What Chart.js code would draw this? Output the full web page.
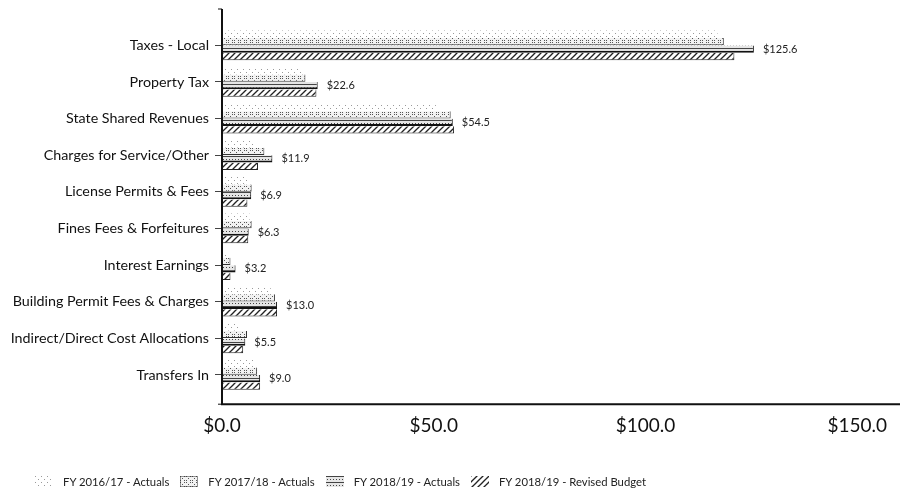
<!DOCTYPE html>
<html>
<head>
<meta charset="utf-8">
<script src="https://cdn.jsdelivr.net/npm/chart.js@4"></script>
<style>
  html, body { margin: 0; padding: 0; background: #fff; }
  #wrap { position: relative; width: 900px; height: 498px; }
  #legend { position: absolute; left: 35px; top: 475px; display: flex; align-items: center;
            font-family: Lato, "Open Sans", sans-serif; font-size: 11.3px; color: #222; }
  .item { display: flex; align-items: center; margin-right: 11px; }
  .item canvas { margin-right: 10px; }
</style>
</head>
<body>
<div id="wrap">
  <canvas id="c" width="900" height="498"></canvas>
  <div id="legend"></div>
</div>
<script>
const categories = [
  "Taxes - Local", "Property Tax", "State Shared Revenues", "Charges for Service/Other",
  "License Permits & Fees", "Fines Fees & Forfeitures", "Interest Earnings",
  "Building Permit Fees & Charges", "Indirect/Direct Cost Allocations", "Transfers In"
];
const seriesNames = [
  "FY 2016/17 - Actuals", "FY 2017/18 - Actuals", "FY 2018/19 - Actuals", "FY 2018/19 - Revised Budget"
];
const fy1617 = [117.0, 19.0, 50.5, 7.5, 6.0, 6.5, 1.2, 11.5, 4.0, 7.5];
const fy1718 = [118.5, 19.7, 54.0, 10.0, 7.0, 7.0, 2.0, 12.5, 5.9, 8.3];
const fy1819 = [125.6, 22.6, 54.5, 11.9, 6.9, 6.3, 3.2, 13.0, 5.5, 9.0];
const fy1819Budget = [121.0, 22.3, 54.8, 8.5, 6.0, 6.2, 2.0, 13.0, 5.0, 9.0];
const xTicks = [0, 50, 100, 150];
const labelledSeries = 2;

function makePattern(kind) {
  const t = document.createElement('canvas');
  const s = 6; t.width = s; t.height = s;
  const g = t.getContext('2d');
  g.fillStyle = '#fff'; g.fillRect(0, 0, s, s);
  if (kind === 0) {
    g.fillStyle = '#9a9a9a';
    g.fillRect(0, 0, 1, 1); g.fillRect(3, 3, 1, 1);
  } else if (kind === 1) {
    g.fillStyle = '#f2f2f2'; g.fillRect(0, 0, s, s);
    g.fillStyle = '#555';
    g.fillRect(0, 0, 1, 1); g.fillRect(2, 2, 1, 1); g.fillRect(4, 4, 1, 1);
    g.fillRect(4, 0, 1, 1); g.fillRect(0, 4, 1, 1);
  } else if (kind === 2) {
    g.fillStyle = '#e6e6e6'; g.fillRect(0, 0, s, s);
    g.fillStyle = '#444';
    g.fillRect(0, 0, 6, 1); g.fillRect(1, 3, 1, 1); g.fillRect(4, 3, 1, 1);
  } else {
    g.strokeStyle = '#222'; g.lineWidth = 1.3;
    g.beginPath(); g.moveTo(-1, s + 1); g.lineTo(s + 1, -1); g.stroke();
    g.beginPath(); g.moveTo(-1, 1); g.lineTo(1, -1); g.stroke();
    g.beginPath(); g.moveTo(s - 1, s + 1); g.lineTo(s + 1, s - 1); g.stroke();
  }
  const ctx = document.getElementById('c').getContext('2d');
  return ctx.createPattern(t, 'repeat');
}

const fills = [0, 1, 2, 3].map(makePattern);
const borders = ['#b0b0b0', '#333', '#111', '#222'];
const seriesData = [fy1617, fy1718, fy1819, fy1819Budget];

const datasets = seriesNames.map((name, i) => ({
  label: name,
  data: seriesData[i],
  backgroundColor: fills[i],
  borderColor: borders[i],
  borderWidth: i === 0 ? 0 : { top: 0, right: 1, bottom: i === 2 ? 2 : 1, left: 0 },
  borderSkipped: false,
  categoryPercentage: 0.82,
  barPercentage: 0.96
}));

const axisPlugin = {
  id: 'axisLines',
  afterDraw(chart) {
    const { ctx, chartArea: a } = chart;
    ctx.save();
    ctx.strokeStyle = '#111';
    ctx.lineWidth = 2;
    ctx.beginPath();
    ctx.moveTo(a.left, a.top - 18);
    ctx.lineTo(a.left, a.bottom + 11);
    ctx.lineTo(chart.width, a.bottom + 11);
    ctx.stroke();
    ctx.lineWidth = 1;
    ctx.beginPath();
    ctx.moveTo(a.left - 4, a.top - 18); ctx.lineTo(a.left, a.top - 18);
    ctx.moveTo(a.left - 4, a.bottom + 11); ctx.lineTo(a.left, a.bottom + 11);
    ctx.stroke();
    ctx.restore();
  }
};

const valueLabels = {
  id: 'valueLabels',
  afterDatasetsDraw(chart) {
    const { ctx } = chart;
    const meta = chart.getDatasetMeta(labelledSeries);
    const vals = chart.data.datasets[labelledSeries].data;
    ctx.save();
    ctx.font = '11px Lato, "Open Sans", sans-serif';
    ctx.fillStyle = '#222';
    ctx.textAlign = 'left';
    ctx.textBaseline = 'middle';
    meta.data.forEach((bar, i) => {
      ctx.fillText('$' + vals[i].toFixed(1), bar.x + 9, bar.y);
    });
    ctx.restore();
  }
};

new Chart(document.getElementById('c'), {
  type: 'bar',
  data: { labels: categories, datasets },
  options: {
    indexAxis: 'y',
    responsive: false,
    animation: false,
    layout: { padding: { left: 4, right: 42, top: 27, bottom: 48 } },
    plugins: { legend: { display: false }, tooltip: { enabled: false } },
    scales: {
      x: {
        min: 0, max: 150,
        afterBuildTicks: (s) => { s.ticks = xTicks.map(v => ({ value: v })); },
        grid: { display: false },
        border: { display: false },
        ticks: {
          padding: 13,
          color: '#111',
          font: { family: 'Lato, "Open Sans", sans-serif', size: 19 },
          callback: (v) => '$' + Number(v).toFixed(1)
        }
      },
      y: {
        grid: { display: true, drawOnChartArea: false, offset: false, tickLength: 7, color: '#444' },
        border: { display: false },
        afterFit: (s) => { s.width = 218; },
        ticks: {
          padding: 6,
          color: '#111',
          font: { family: 'Lato, "Open Sans", sans-serif', size: 14.3 }
        }
      }
    }
  },
  plugins: [axisPlugin, valueLabels]
});

const legend = document.getElementById('legend');
seriesNames.forEach((name, i) => {
  const item = document.createElement('div');
  item.className = 'item';
  const sw = document.createElement('canvas');
  sw.width = 18; sw.height = 11;
  const g = sw.getContext('2d');
  g.fillStyle = fills[i]; g.fillRect(0, 0, 18, 11);
  if (i === 1) { g.setLineDash([1, 1]); g.strokeStyle = '#333'; g.strokeRect(0.5, 0.5, 17, 10); }
  const tx = document.createElement('span');
  tx.textContent = name;
  item.appendChild(sw); item.appendChild(tx);
  legend.appendChild(item);
});
</script>
</body>
</html>
